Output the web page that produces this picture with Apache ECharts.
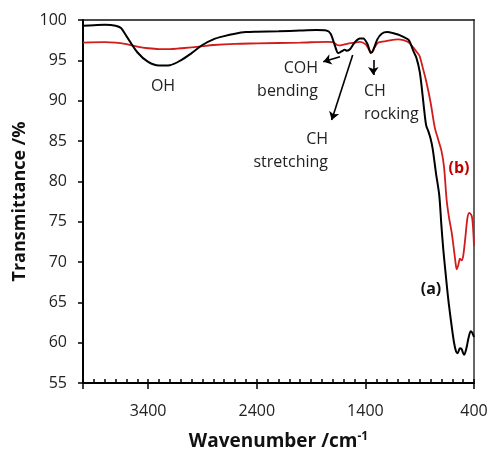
<!DOCTYPE html>
<html>
<head>
<meta charset="utf-8">
<title>FTIR</title>
<script src="https://cdn.jsdelivr.net/npm/echarts@6/dist/echarts.min.js"></script>
<style>
html, body { margin: 0; padding: 0; background: #fff; }
#chart { width: 491px; height: 451px; }
</style>
</head>
<body>
<div id="chart"></div>
<script>
// (a) black spectrum
var wavenumberA = [4000, 3900, 3800, 3700, 3650, 3600, 3500, 3400, 3300, 3200, 3100, 3000, 2900, 2800, 2700, 2600, 2500, 2400, 2200, 2000, 1850, 1760, 1720, 1680, 1650, 1620, 1590, 1570, 1540, 1500, 1450, 1420, 1380, 1350, 1330, 1290, 1250, 1200, 1150, 1100, 1050, 1000, 960, 930, 900, 880, 860, 840, 820, 800, 780, 750, 720, 700, 683, 660, 637, 610, 585, 565, 550, 530, 514, 500, 490, 470, 450, 430, 415, 400];
var transA = [99.3, 99.35, 99.4, 99.3, 99.0, 98.0, 96.0, 94.8, 94.35, 94.4, 95.0, 95.9, 96.9, 97.6, 98.0, 98.3, 98.5, 98.55, 98.6, 98.7, 98.75, 98.7, 98.3, 96.8, 95.9, 96.1, 96.3, 96.2, 96.4, 97.2, 97.7, 97.7, 97.0, 95.9, 96.2, 97.6, 98.3, 98.5, 98.4, 98.2, 97.9, 97.5, 96.2, 95.3, 93.6, 91.5, 89.0, 86.9, 86.2, 85.3, 84.0, 81.0, 78.3, 74.5, 71.6, 68.4, 65.4, 62.5, 60.1, 58.9, 58.7, 59.3, 59.2, 58.7, 58.5, 59.3, 60.6, 61.4, 61.2, 60.7];

// (b) red spectrum
var wavenumberB = [4000, 3800, 3700, 3600, 3500, 3400, 3300, 3200, 3100, 3000, 2900, 2800, 2600, 2400, 2000, 1750, 1700, 1660, 1640, 1600, 1550, 1500, 1450, 1400, 1360, 1340, 1320, 1280, 1200, 1100, 1050, 1000, 960, 920, 900, 870, 840, 800, 760, 730, 700, 676, 652, 630, 606, 580, 566, 560, 545, 529, 514, 499, 480, 460, 443, 421, 410, 400];
var transB = [97.2, 97.25, 97.2, 97.0, 96.7, 96.5, 96.4, 96.4, 96.5, 96.6, 96.75, 96.9, 97.05, 97.1, 97.2, 97.3, 97.25, 96.9, 96.85, 96.95, 97.1, 97.2, 97.3, 97.0, 96.2, 96.0, 96.5, 97.2, 97.4, 97.6, 97.5, 97.2, 96.6, 95.9, 95.5, 94.0, 92.4, 89.8, 86.6, 85.2, 83.8, 81.8, 77.7, 75.5, 73.7, 71.0, 69.5, 69.1, 69.6, 70.4, 70.2, 70.8, 73.0, 75.5, 76.1, 75.7, 74.5, 72.0];

var xMin = 400, xMax = 4000, xStep = 1000, xMinorStep = 100;
var yMin = 55, yMax = 100, yStep = 5;

// annotation arrows [from, to] in (wavenumber, transmittance)
var arrowCOH = [[1634, 95.45], [1788, 94.83]];
var arrowStretch = [[1517, 95.66], [1710, 87.6]];
var arrowRock = [[1327, 95.04], [1327, 93.18]];

function pairs(xs, ys) {
  var out = [];
  for (var i = 0; i < xs.length; i++) out.push([xs[i], ys[i]]);
  return out;
}
function arrow(a) {
  return [{ coord: a[0] }, { coord: a[1] }];
}

var font = '"Open Sans", "Liberation Sans", sans-serif';
var textColor = '#222';

var chart = echarts.init(document.getElementById('chart'));
var option = {
  animation: false,
  backgroundColor: '#fff',
  grid: { left: 83, right: 17, top: 20, bottom: 68, outerBoundsMode: 'none', containLabel: false },
  xAxis: [
    {
      type: 'value', position: 'bottom', inverse: true,
      min: xMin, max: xMax, interval: xStep,
      name: 'Wavenumber /cm{sup|-1}', nameLocation: 'middle', nameGap: 48,
      nameTextStyle: {
        fontFamily: font, fontSize: 19, fontWeight: 'bold', color: '#111',
        rich: { sup: { fontFamily: font, fontSize: 12, fontWeight: 'bold', color: '#111', verticalAlign: 'top', padding: [0, 0, 10, 0] } }
      },
      axisLine: { onZero: false, lineStyle: { color: '#000', width: 2 } },
      axisTick: { length: 6, lineStyle: { color: '#000', width: 1.5 } },
      axisLabel: {
        margin: 20, fontFamily: font, fontSize: 16, color: textColor,
        formatter: function (v) { return v === xMax ? '' : String(v); }
      },
      splitLine: { show: false }
    },
    {
      // minor ticks, inside
      type: 'value', position: 'bottom', inverse: true,
      min: xMin, max: xMax, interval: xMinorStep,
      axisLine: { show: false, onZero: false },
      axisTick: { inside: true, length: 4, lineStyle: { color: '#000', width: 1.5 } },
      axisLabel: { show: false },
      splitLine: { show: false }
    },
    {
      type: 'value', position: 'top', inverse: true,
      min: xMin, max: xMax,
      axisLine: { onZero: false, lineStyle: { color: '#111', width: 1.5 } },
      axisTick: { show: false },
      axisLabel: { show: false },
      splitLine: { show: false }
    }
  ],
  yAxis: [
    {
      type: 'value', min: yMin, max: yMax, interval: yStep,
      name: 'Transmittance /%', nameLocation: 'middle', nameGap: 52,
      nameTextStyle: { fontFamily: font, fontSize: 18, fontWeight: 'bold', color: '#111' },
      axisLine: { show: true, onZero: false, lineStyle: { color: '#000', width: 2 } },
      axisTick: { show: true, length: 5, lineStyle: { color: '#000', width: 1.5 } },
      axisLabel: { margin: 16, fontFamily: font, fontSize: 16, color: textColor },
      splitLine: { show: false }
    },
    {
      type: 'value', position: 'right', min: yMin, max: yMax,
      axisLine: { show: true, onZero: false, lineStyle: { color: '#666', width: 2 } },
      axisTick: { show: false },
      axisLabel: { show: false },
      splitLine: { show: false }
    }
  ],
  series: [
    {
      name: '(b)', type: 'line', xAxisIndex: 0, yAxisIndex: 0,
      data: pairs(wavenumberB, transB),
      showSymbol: false, smooth: 0.3,
      lineStyle: { color: '#d01c1c', width: 1.8 }
    },
    {
      name: '(a)', type: 'line', xAxisIndex: 0, yAxisIndex: 0,
      data: pairs(wavenumberA, transA),
      showSymbol: false, smooth: 0.3,
      lineStyle: { color: '#000', width: 2 },
      markLine: {
        silent: true, animation: false,
        symbol: ['none', 'arrow'], symbolSize: 8,
        label: { show: false },
        lineStyle: { color: '#000', width: 1.6, type: 'solid' },
        data: [arrow(arrowCOH), arrow(arrowStretch), arrow(arrowRock)]
      }
    }
  ],
  graphic: [
    { type: 'text', x: 163, y: 86, style: { text: 'OH', font: '16px ' + font, fill: textColor, textAlign: 'center', textVerticalAlign: 'middle' } },
    { type: 'text', x: 318, y: 80, style: { text: 'COH\nbending', font: '16px ' + font, lineHeight: 23, fill: textColor, textAlign: 'right', textVerticalAlign: 'middle' } },
    { type: 'text', x: 328, y: 151, style: { text: 'CH\nstretching', font: '16px ' + font, lineHeight: 23, fill: textColor, textAlign: 'right', textVerticalAlign: 'middle' } },
    { type: 'text', x: 364, y: 103, style: { text: 'CH\nrocking', font: '16px ' + font, lineHeight: 23, fill: textColor, textAlign: 'left', textVerticalAlign: 'middle' } },
    { type: 'text', x: 459, y: 168, style: { text: '(b)', font: 'bold 16px ' + font, fill: '#c00000', textAlign: 'center', textVerticalAlign: 'middle' } },
    { type: 'text', x: 431, y: 289, style: { text: '(a)', font: 'bold 16px ' + font, fill: '#111', textAlign: 'center', textVerticalAlign: 'middle' } }
  ]
};
chart.setOption(option);
</script>
</body>
</html>
